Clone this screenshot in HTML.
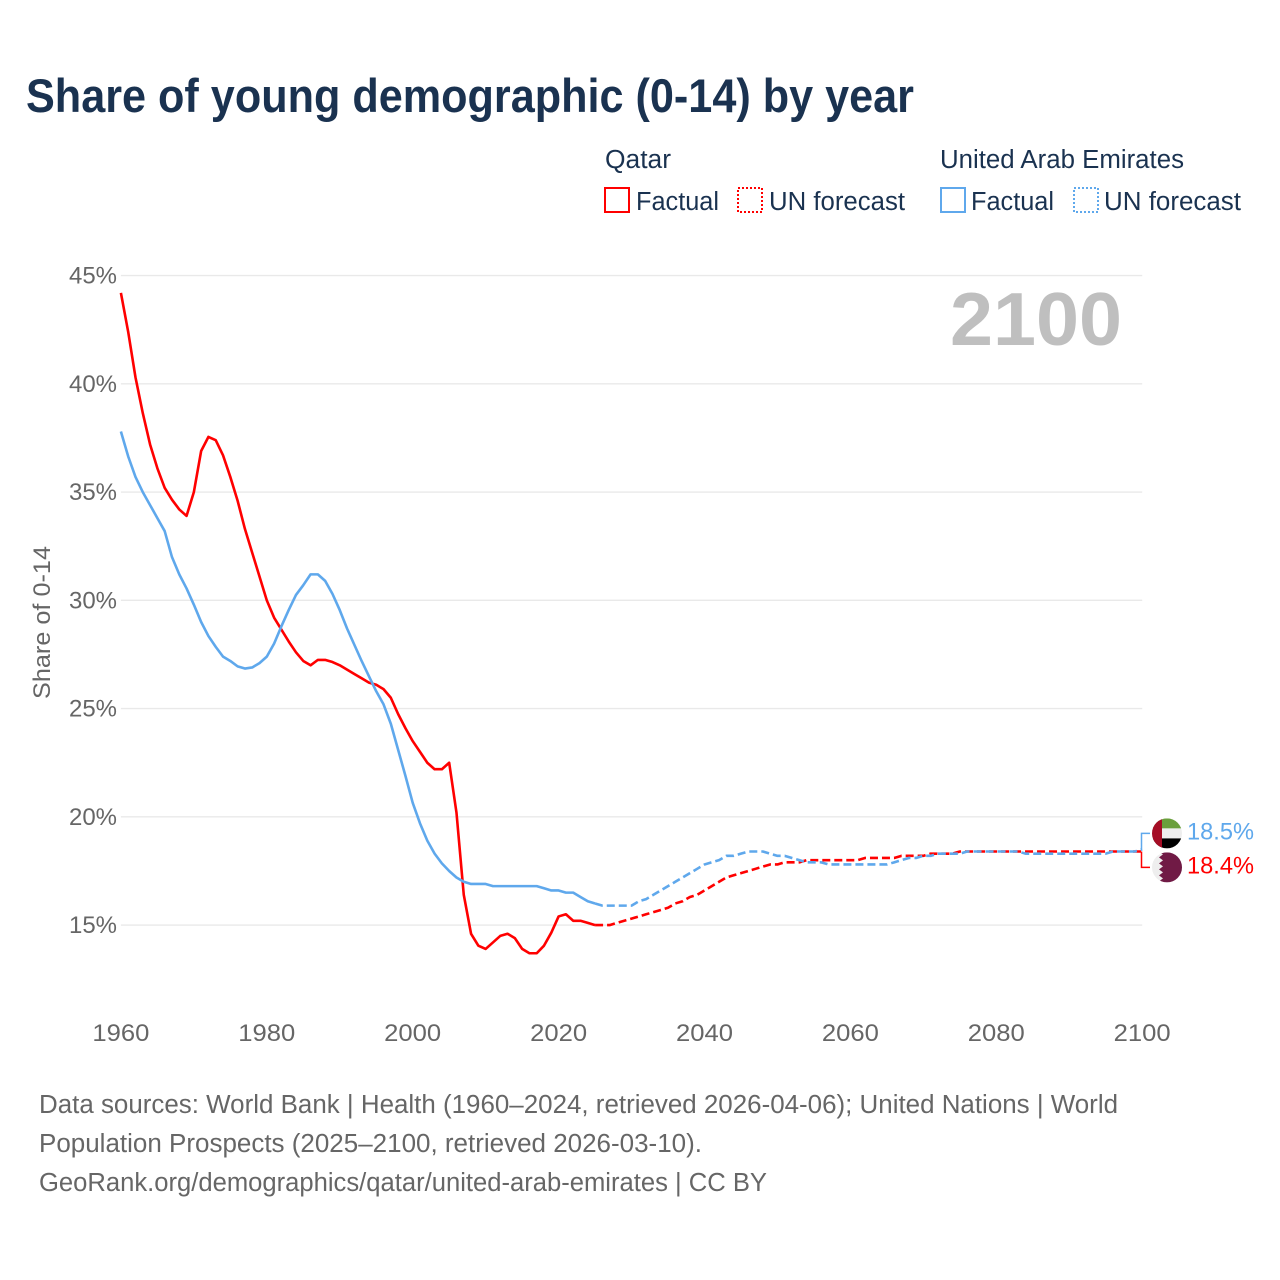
<!DOCTYPE html>
<html lang="en">
<head>
<meta charset="utf-8">
<title>Share of young demographic (0-14) by year</title>
<style>
html,body{margin:0;padding:0;background:#fff;width:1280px;height:1280px;overflow:hidden}
svg{display:block;font-family:"Liberation Sans",Arial,sans-serif}
.legend{fill:#1a3250;font-size:25.5px}
.foot{fill:#666;font-size:25.5px}
.tick{fill:#666;font-size:24.5px}
</style>
</head>
<body>
<svg id="chart" width="1280" height="1280" viewBox="0 0 1280 1280" xmlns="http://www.w3.org/2000/svg">
  <rect width="1280" height="1280" fill="#fff"/>
  <text x="26" y="112" font-size="47" font-weight="700" fill="#1a3250" textLength="888" lengthAdjust="spacingAndGlyphs">Share of young demographic (0-14) by year</text>

  <g>
    <text class="legend" x="605" y="168" textLength="66" lengthAdjust="spacingAndGlyphs">Qatar</text>
    <text class="legend" x="940" y="168" textLength="244" lengthAdjust="spacingAndGlyphs">United Arab Emirates</text>
    <rect x="605" y="188" width="24" height="24" fill="none" stroke="#ff0000" stroke-width="2"/>
    <text class="legend" x="636" y="210" textLength="83" lengthAdjust="spacingAndGlyphs">Factual</text>
    <rect x="738" y="188" width="24" height="24" fill="none" stroke="#ff0000" stroke-width="2" stroke-dasharray="2 2"/>
    <text class="legend" x="769" y="210" textLength="136" lengthAdjust="spacingAndGlyphs">UN forecast</text>
    <rect x="941" y="188" width="24" height="24" fill="none" stroke="#5fa8ec" stroke-width="2"/>
    <text class="legend" x="971" y="210" textLength="83" lengthAdjust="spacingAndGlyphs">Factual</text>
    <rect x="1074" y="188" width="24" height="24" fill="none" stroke="#5fa8ec" stroke-width="2" stroke-dasharray="2 2"/>
    <text class="legend" x="1104" y="210" textLength="137" lengthAdjust="spacingAndGlyphs">UN forecast</text>
  </g>

  <g id="grid"></g>
  <g id="y-labels"></g>
  <g id="x-labels"></g>

  <text x="950" y="345" font-size="75" font-weight="700" fill="#bfbfbf" textLength="172" lengthAdjust="spacingAndGlyphs">2100</text>
  <text transform="translate(50,699) rotate(-90)" font-size="24.5" fill="#666" textLength="153" lengthAdjust="spacingAndGlyphs">Share of 0-14</text>

  <g id="series"></g>
  <g id="connectors"></g>

  <defs>
    <clipPath id="flag-clip"><circle cx="0" cy="0" r="15"/></clipPath>
  </defs>
  <g id="flag-uae">
    <g clip-path="url(#flag-clip)">
      <rect x="-15" y="-15" width="30" height="10" fill="#6a9f3c"/>
      <rect x="-15" y="-5" width="30" height="10" fill="#eeeeee"/>
      <rect x="-15" y="5" width="30" height="10" fill="#000"/>
      <rect x="-15" y="-15" width="10" height="30" fill="#a50d25"/>
    </g>
  </g>
  <g id="flag-qatar">
    <g clip-path="url(#flag-clip)">
      <rect x="-15" y="-15" width="30" height="30" fill="#eeeeee"/>
      <polygon fill="#701a45" points="15,-15 -8,-15 -4,-13 -8,-10 -4,-7 -8,-4 -4,-1 -8,2 -4,5 -8,8 -4,11 -8,14 -8,15 15,15"/>
    </g>
  </g>
  <text id="label-uae" x="1187" font-size="24.5" fill="#5fa8ec" textLength="67" lengthAdjust="spacingAndGlyphs"></text>
  <text id="label-qatar" x="1187" font-size="24.5" fill="#ff0000" textLength="67" lengthAdjust="spacingAndGlyphs"></text>

  <g>
    <text class="foot" x="39" y="1113" textLength="1079" lengthAdjust="spacingAndGlyphs">Data sources: World Bank | Health (1960–2024, retrieved 2026-04-06); United Nations | World</text>
    <text class="foot" x="39" y="1152" textLength="663" lengthAdjust="spacingAndGlyphs">Population Prospects (2025–2100, retrieved 2026-03-10).</text>
    <text class="foot" x="39" y="1191" textLength="728" lengthAdjust="spacingAndGlyphs">GeoRank.org/demographics/qatar/united-arab-emirates | CC BY</text>
  </g>
</svg>
<script>
var xTickYears = [1960, 1980, 2000, 2020, 2040, 2060, 2080, 2100];
var yTickValues = [15, 20, 25, 30, 35, 40, 45];
var factualStartYear = 1960;
var forecastStartYear = 2025;

var qatarFactual = [
  44.2,42.4,40.3,38.65,37.2,36.1,35.2,34.65,34.2,33.9,
  35.0,36.9,37.55,37.4,36.7,35.7,34.6,33.3,32.2,31.1,
  30.0,29.2,28.65,28.1,27.6,27.2,27.0,27.25,27.25,27.15,
  27.0,26.8,26.6,26.4,26.2,26.1,25.9,25.5,24.75,24.1,
  23.5,23.0,22.5,22.2,22.2,22.5,20.2,16.4,14.6,14.05,
  13.9,14.2,14.5,14.6,14.4,13.9,13.7,13.7,14.05,14.65,
  15.4,15.5,15.2,15.2,15.1,15.0
];
var qatarForecast = [
  15.0,15.0,15.0,15.1,15.2,
  15.3,15.4,15.5,15.6,15.7,15.8,16.0,16.1,16.3,16.4,
  16.6,16.8,17.0,17.2,17.3,17.4,17.5,17.6,17.7,17.8,
  17.8,17.9,17.9,17.9,18.0,18.0,18.0,18.0,18.0,18.0,
  18.0,18.0,18.1,18.1,18.1,18.1,18.1,18.2,18.2,18.2,
  18.2,18.3,18.3,18.3,18.3,18.4,18.4,18.4,18.4,18.4,
  18.4,18.4,18.4,18.4,18.4,18.4,18.4,18.4,18.4,18.4,
  18.4,18.4,18.4,18.4,18.4,18.4,18.4,18.4,18.4,18.4,
  18.4
];
var uaeFactual = [
  37.8,36.65,35.7,35.0,34.4,33.8,33.2,32.0,31.2,30.55,
  29.8,29.0,28.35,27.85,27.4,27.2,26.95,26.85,26.9,27.1,
  27.4,28.0,28.8,29.55,30.25,30.7,31.2,31.2,30.9,30.3,
  29.55,28.7,27.95,27.2,26.5,25.8,25.2,24.3,23.1,21.9,
  20.65,19.7,18.9,18.3,17.85,17.5,17.2,17.0,16.9,16.9,
  16.9,16.8,16.8,16.8,16.8,16.8,16.8,16.8,16.7,16.6,
  16.6,16.5,16.5,16.3,16.1,16.0
];
var uaeForecast = [
  16.0,15.9,15.9,15.9,15.9,
  15.9,16.1,16.2,16.4,16.6,16.8,17.0,17.2,17.4,17.6,
  17.8,17.9,18.0,18.2,18.2,18.3,18.4,18.4,18.4,18.3,
  18.2,18.2,18.1,18.0,17.9,17.9,17.9,17.8,17.8,17.8,
  17.8,17.8,17.8,17.8,17.8,17.8,17.9,18.0,18.1,18.1,
  18.2,18.2,18.3,18.3,18.3,18.3,18.4,18.4,18.4,18.4,
  18.4,18.4,18.4,18.4,18.3,18.3,18.3,18.3,18.3,18.3,
  18.3,18.3,18.3,18.3,18.3,18.3,18.4,18.4,18.4,18.4,
  18.5
];
var uaeEndLabel = "18.5%";
var qatarEndLabel = "18.4%";

var NS = "http://www.w3.org/2000/svg";
function xScale(year) { return 120.9 + (year - 1960) * 7.295; }
function yScale(v) { return 275.6 + (45 - v) * 21.65; }
function make(tag, parentId) {
  var node = document.createElementNS(NS, tag);
  document.getElementById(parentId).appendChild(node);
  return node;
}
function linePoints(values, startYear) {
  return values.map(function (v, i) {
    return xScale(startYear + i).toFixed(2) + "," + yScale(v).toFixed(2);
  }).join(" ");
}

yTickValues.forEach(function (v) {
  var g = make("line", "grid");
  
  
  g.setAttribute("x1", xScale(1960));
  g.setAttribute("x2", xScale(2100));
  g.setAttribute("y1", yScale(v));
  g.setAttribute("y2", yScale(v));
  g.setAttribute("stroke", "#e9e9e9");
  g.setAttribute("stroke-width", "1.4");

  var t = make("text", "y-labels");
  
  
  t.setAttribute("class", "tick");
  t.setAttribute("x", "117");
  t.setAttribute("y", yScale(v) + 8);
  t.setAttribute("text-anchor", "end");
  t.setAttribute("textLength", "48");
  t.setAttribute("lengthAdjust", "spacingAndGlyphs");
  t.textContent = v + "%";
});

xTickYears.forEach(function (yr) {
  var t = make("text", "x-labels");
  
  
  t.setAttribute("class", "tick");
  t.setAttribute("x", xScale(yr));
  t.setAttribute("y", "1041");
  t.setAttribute("text-anchor", "middle");
  t.setAttribute("textLength", "57");
  t.setAttribute("lengthAdjust", "spacingAndGlyphs");
  t.textContent = yr;
});

function styleLine(node, color, dashed) {
  node.setAttribute("fill", "none");
  node.setAttribute("stroke", color);
  node.setAttribute("stroke-width", "2.6");
  node.setAttribute("stroke-linejoin", "round");
  if (dashed) { node.setAttribute("stroke-dasharray", "8 4"); }
}

var qf = make("polyline", "series");


qf.setAttribute("points", linePoints(qatarFactual, factualStartYear));
styleLine(qf, "#ff0000", false);

var qp = make("polyline", "series");


qp.setAttribute("points", linePoints(qatarForecast, forecastStartYear));
styleLine(qp, "#ff0000", true);

var uf = make("polyline", "series");


uf.setAttribute("points", linePoints(uaeFactual, factualStartYear));
styleLine(uf, "#5fa8ec", false);

var up = make("polyline", "series");


up.setAttribute("points", linePoints(uaeForecast, forecastStartYear));
styleLine(up, "#5fa8ec", true);

var uaeEnd = uaeForecast[uaeForecast.length - 1];
var qatarEnd = qatarForecast[qatarForecast.length - 1];
var midY = (yScale(uaeEnd) + yScale(qatarEnd)) / 2;
var uaeY = midY - 17;
var qatarY = midY + 17;

var qc = make("polyline", "connectors");


qc.setAttribute("points", "1141.5," + yScale(qatarEnd) + " 1141.5," + qatarY + " 1150," + qatarY);
qc.setAttribute("fill", "none");
qc.setAttribute("stroke", "#ff0000");
qc.setAttribute("stroke-width", "1.5");

var uc = make("polyline", "connectors");


uc.setAttribute("points", "1141.5," + yScale(uaeEnd) + " 1141.5," + uaeY + " 1150," + uaeY);
uc.setAttribute("fill", "none");
uc.setAttribute("stroke", "#5fa8ec");
uc.setAttribute("stroke-width", "1.5");

document.getElementById("flag-uae").setAttribute("transform", "translate(1167," + uaeY + ")");
document.getElementById("flag-qatar").setAttribute("transform", "translate(1167," + qatarY + ")");
var lu = document.getElementById("label-uae");
lu.setAttribute("y", uaeY + 6);
lu.textContent = uaeEndLabel;
var lq = document.getElementById("label-qatar");
lq.setAttribute("y", qatarY + 6);
lq.textContent = qatarEndLabel;
</script>
</body>
</html>
